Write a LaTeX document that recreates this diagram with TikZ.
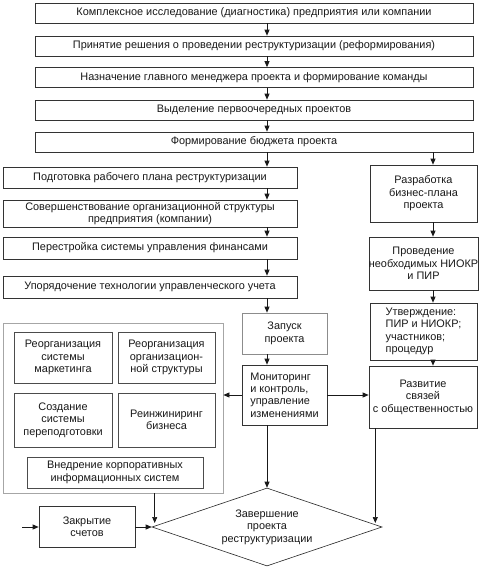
\documentclass[tikz,border=0pt]{standalone}
\usepackage{fontspec}
\setmainfont{Liberation Sans}
\usetikzlibrary{arrows.meta,shapes.geometric,calc}
\newcommand\diafont{\fontsize{10.9}{12.4}\selectfont}
\begin{document}
\begin{tikzpicture}[x=1pt,y=-1pt,
  box/.style={draw=black!80, line width=0.7pt, inner sep=0pt, align=center, font=\diafont, text=black!90},
  lbox/.style={box, align=left},
  gbox/.style={box, draw=black!45},
  ibox/.style={box, draw=black!70},
  cont/.style={draw=black!35, line width=0.8pt, inner sep=0pt},
  dia/.style={draw=black!85, line width=0.6pt, diamond, inner sep=0pt, aspect=2.95, align=center, font=\diafont, text=black!90},
  arr/.style={draw=black!90, line width=0.7pt, -{Triangle[length=6pt,width=5pt]}},
  ln/.style={draw=black!90, line width=0.7pt}
]
\useasboundingbox (0,0) rectangle (482,568);
\fill[white] (0,0) rectangle (482,568);

% top boxes
\node[box, minimum width=438pt, minimum height=20pt] (b1) at (254,13) {Комплексное исследование (диагностика) предприятия или компании};
\node[box, minimum width=438pt, minimum height=20pt] (b2) at (254,46) {Принятие решения о проведении реструктуризации (реформирования)};
\node[box, minimum width=438pt, minimum height=20pt] (b3) at (254,77.5) {Назначение главного менеджера проекта и формирование команды};
\node[box, minimum width=438pt, minimum height=20pt] (b4) at (254,110) {Выделение первоочередных проектов};
\node[box, minimum width=438pt, minimum height=20pt] (b5) at (254,142) {Формирование бюджета проекта};

% left column
\node[box, minimum width=294pt, minimum height=21pt] (l1) at (150,177.5) {Подготовка рабочего плана реструктуризации};
\node[box, minimum width=294pt, minimum height=27pt] (l2) at (150,213.5) {Совершенствование организационной структуры\\предприятия (компании)};
\node[box, minimum width=294pt, minimum height=22pt] (l3) at (150,248) {Перестройка системы управления финансами};
\node[box, minimum width=294pt, minimum height=22pt] (l4) at (150,287) {Упорядочение технологии управленческого учета};

% middle
\node[gbox, minimum width=85pt, minimum height=41pt] (zap) at (284.5,333.5) {Запуск\\проекта};
\node[gbox, lbox, minimum width=85pt, minimum height=60pt] (mon) at (284.5,395) {Мониторинг\\и контроль,\\управление\\изменениями};

% right column
\node[box, minimum width=107pt, minimum height=57pt] (r1) at (423.5,193.5) {Разработка\\бизнес-плана\\проекта};
\node[box, minimum width=107pt, minimum height=53pt] (r2) at (423.5,263.5) {Проведение\\необходимых НИОКР\\и ПИР};
\node[lbox, minimum width=107pt, minimum height=57pt] (r3) at (423.5,331.5) {Утверждение:\\ПИР и НИОКР;\\участников;\\процедур};
\node[box, minimum width=108pt, minimum height=62pt] (r4) at (423,397) {Развитие\\связей\\с общественностью};

% container
\node[cont, minimum width=220pt, minimum height=170pt] (cnt) at (113,408) {};
\node[ibox, minimum width=98pt, minimum height=51pt] (i1) at (63,357.5) {Реорганизация\\системы\\маркетинга};
\node[ibox, minimum width=97pt, minimum height=51pt] (i2) at (166.5,357.5) {Реорганизация\\организацион-\\ной структуры};
\node[ibox, minimum width=98pt, minimum height=54pt] (i3) at (63,420) {Создание\\системы\\переподготовки};
\node[ibox, minimum width=97pt, minimum height=54pt] (i4) at (166.5,420) {Реинжиниринг\\бизнеса};
\node[ibox, minimum width=176pt, minimum height=31pt] (i5) at (115,472.5) {Внедрение корпоративных\\информационных систем};

% bottom
\node[box, minimum width=96pt, minimum height=41pt] (zak) at (87,527) {Закрытие\\счетов};
\node[dia, minimum width=230pt, minimum height=78pt] (fin) at (267,527) {Завершение\\проекта\\реструктуризации};

% helper coordinates
\coordinate (lc) at (267,0);
\coordinate (rc) at (433,0);
\coordinate (inp) at (22,527);
\coordinate (dl) at ($(fin.west)+(3,-4)$);
\coordinate (dr) at ($(fin.east)+(-7,-4)$);

% connectors
\draw[arr] (b1.south -| lc) -- (b2.north -| lc);
\draw[arr] (b2.south -| lc) -- (b3.north -| lc);
\draw[arr] (b3.south -| lc) -- (b4.north -| lc);
\draw[arr] (b4.south -| lc) -- (b5.north -| lc);
\draw[arr] (b5.south -| lc) -- (l1.north -| lc);
\draw[arr] (l1.south -| lc) -- (l2.north -| lc);
\draw[arr] (l2.south -| lc) -- (l3.north -| lc);
\draw[arr] (l3.south -| lc) -- (l4.north -| lc);
\draw[arr] (l4.south -| lc) -- (zap.north -| lc);
\draw[arr] (zap.south -| lc) -- (mon.north -| lc);
\draw[arr] (mon.south -| lc) -- (fin.north);

\draw[arr] (b5.south -| rc) -- (r1.north -| rc);
\draw[arr] (r1.south -| rc) -- (r2.north -| rc);
\draw[arr] (r2.south -| rc) -- (r3.north -| rc);
\draw[arr] (r3.south -| rc) -- (r4.north -| rc);

\draw[arr] (mon.west) -- (mon.west -| cnt.east);
\draw[arr] (mon.east) -- (mon.east -| r4.west);

\draw[arr] (r4.south -| dr) -- (dr);
\draw[arr] (cnt.south -| dl) -- (dl);
\draw[arr] (inp) -- (zak.west);
\draw[arr] (zak.east) -- (fin.west);
\end{tikzpicture}
\end{document}
